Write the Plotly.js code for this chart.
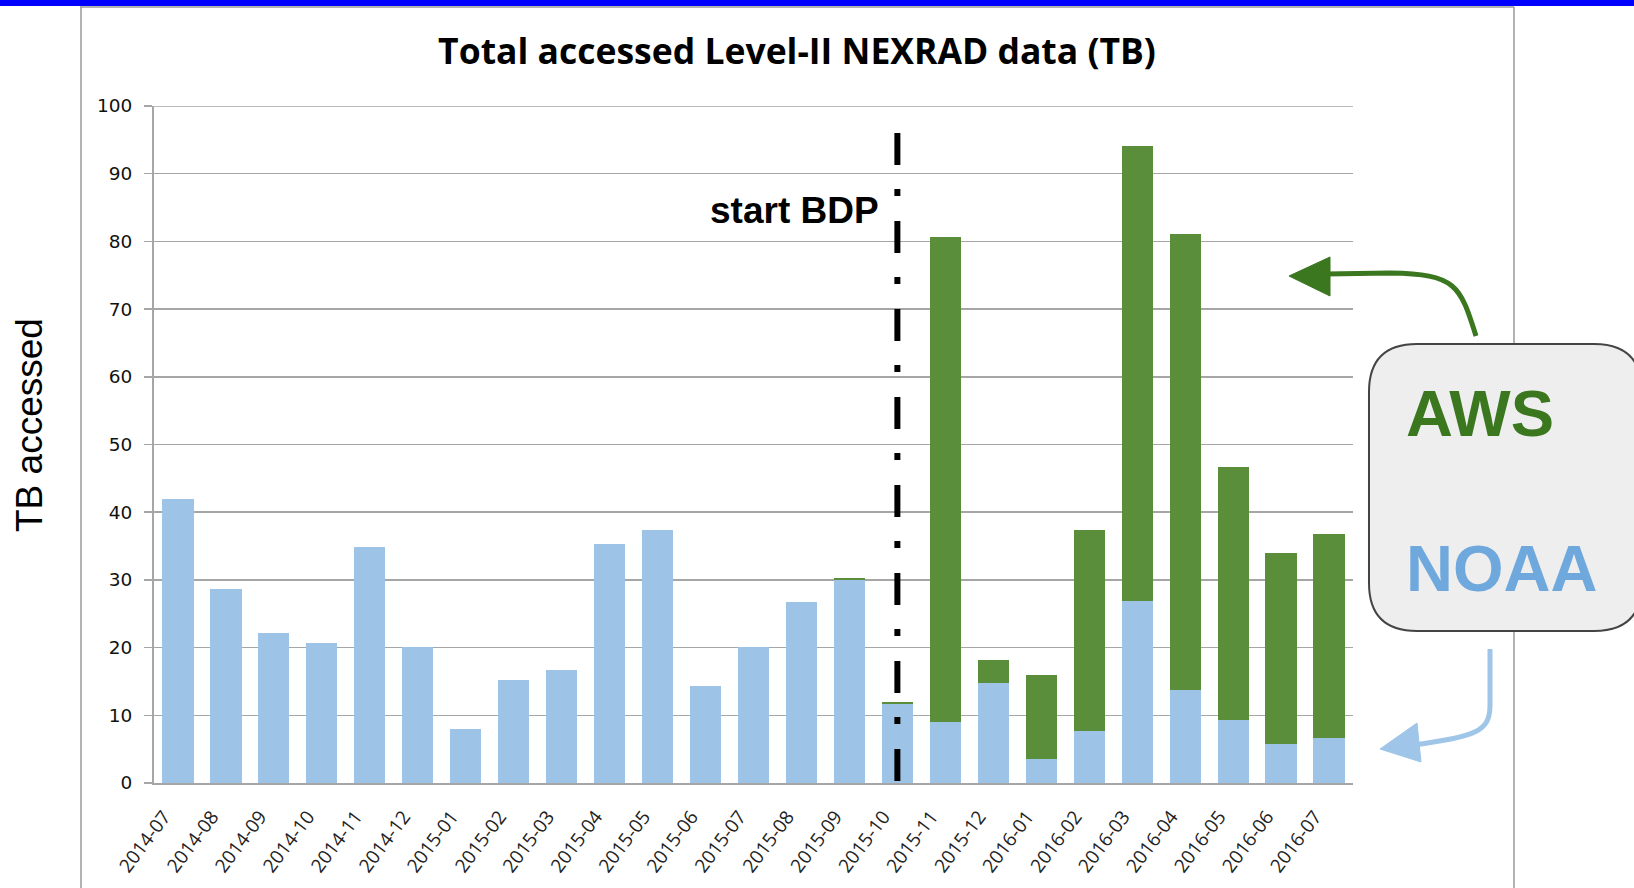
<!DOCTYPE html>
<html><head><meta charset="utf-8">
<script src="https://cdn.plot.ly/plotly-3.0.1.min.js"></script>
<style>html,body{margin:0;padding:0;background:#fff;overflow:hidden;} #chart{width:1634px;height:888px;}</style>
</head><body><div id="chart"></div>
<script>
// ---- data ----
const months = ["2014-07","2014-08","2014-09","2014-10","2014-11","2014-12","2015-01","2015-02","2015-03","2015-04","2015-05","2015-06","2015-07","2015-08","2015-09","2015-10","2015-11","2015-12","2016-01","2016-02","2016-03","2016-04","2016-05","2016-06","2016-07"];
const noaa = [41.9, 28.6, 22.1, 20.7, 34.8, 20.1, 8.0, 15.2, 16.7, 35.3, 37.4, 14.4, 20.1, 26.8, 30.0, 11.6, 9.0, 14.8, 3.5, 7.7, 26.9, 13.8, 9.3, 5.8, 6.7];
const aws  = [0, 0, 0, 0, 0, 0, 0, 0, 0, 0, 0, 0, 0, 0, 0.3, 0.3, 71.6, 3.3, 12.4, 29.7, 67.2, 67.3, 37.4, 28.2, 30.1];
const yTicks = [0, 10, 20, 30, 40, 50, 60, 70, 80, 90, 100];
const startMonth = "2015-10";
const titleText = "Total accessed Level-II NEXRAD data (TB)";

// ---- layout geometry ----
const W = 1634, H = 888;
const ML = 154, MR = 281, MT = 106, MB = 105;
const PW = W - ML - MR, PH = H - MT - MB;
const X = px => (px - ML) / PW;
const Y = py => (MT + PH - py) / PH;
const pt = (x, y) => X(x).toFixed(5) + "," + Y(y).toFixed(5);

const blue = "#9DC3E6", green = "#5B8E3A";
const grid = "#a6a6a6";

const traces = [
  {type: "bar", name: "NOAA", x: months, y: noaa, marker: {color: blue, line: {width: 0}}, hoverinfo: "x+y"},
  {type: "bar", name: "AWS", x: months, y: aws, marker: {color: green, line: {width: 0}}, hoverinfo: "x+y"}
];

const startIdx = months.indexOf(startMonth);

function roundRect(x0, y0, x1, y1, r) {
  return "M " + pt(x0 + r, y0) + " L " + pt(x1 - r, y0) +
    " Q " + pt(x1, y0) + " " + pt(x1, y0 + r) +
    " L " + pt(x1, y1 - r) + " Q " + pt(x1, y1) + " " + pt(x1 - r, y1) +
    " L " + pt(x0 + r, y1) + " Q " + pt(x0, y1) + " " + pt(x0, y1 - r) +
    " L " + pt(x0, y0 + r) + " Q " + pt(x0, y0) + " " + pt(x0 + r, y0) + " Z";
}

const shapes = [
  // top gridline at 100
  {type: "line", xref: "paper", yref: "y", x0: 0, x1: 1, y0: 100, y1: 100, line: {color: grid, width: 1.5}, layer: "below"},
  // blue top band
  {type: "rect", xref: "paper", yref: "paper", x0: X(0), x1: X(W), y0: Y(0), y1: Y(6), fillcolor: "#0000ff", line: {width: 0}, layer: "above"},
  // frame
  {type: "line", xref: "paper", yref: "paper", x0: X(80), x1: X(1514), y0: Y(7), y1: Y(7), line: {color: "#9a9a9a", width: 1.5}},
  {type: "line", xref: "paper", yref: "paper", x0: X(81), x1: X(81), y0: Y(7), y1: Y(H), line: {color: "#9a9a9a", width: 1.5}},
  {type: "line", xref: "paper", yref: "paper", x0: X(1514), x1: X(1514), y0: Y(7), y1: Y(H), line: {color: "#9a9a9a", width: 1.5}},
  // start BDP dash-dot line
  {type: "line", xref: "x", yref: "y", x0: startIdx, x1: startIdx, y0: 96, y1: 0, line: {color: "#000", width: 6, dash: "32px,24px,7px,25px"}, layer: "above"},
  // legend box
  {type: "path", xref: "paper", yref: "paper", path: roundRect(1369, 344, 1642, 631, 48), fillcolor: "#eeeeee", line: {color: "#444", width: 2}, layer: "above"},
  // green arrow
  {type: "path", xref: "paper", yref: "paper", path: "M " + pt(1476, 336) + " C " + pt(1460, 285) + " " + pt(1456, 274) + " " + pt(1390, 273) + " L " + pt(1326, 274), line: {color: "#3b771f", width: 5}, layer: "above"},
  {type: "path", xref: "paper", yref: "paper", path: "M " + pt(1289, 276) + " L " + pt(1330, 257) + " L " + pt(1330, 296) + " Z", fillcolor: "#3b771f", line: {color: "#3b771f", width: 1}, layer: "above"},
  // blue arrow
  {type: "path", xref: "paper", yref: "paper", path: "M " + pt(1490, 649) + " L " + pt(1490, 705) + " C " + pt(1490, 732) + " " + pt(1476, 736) + " " + pt(1414, 745), line: {color: "#9fc5e8", width: 5}, layer: "above"},
  {type: "path", xref: "paper", yref: "paper", path: "M " + pt(1380, 749) + " L " + pt(1417, 723) + " L " + pt(1421, 762) + " Z", fillcolor: "#9fc5e8", line: {color: "#9fc5e8", width: 1}, layer: "above"}
];

const annotations = [
  {xref: "paper", yref: "paper", x: X(29), y: Y(425), text: "TB accessed", textangle: -90, showarrow: false, xanchor: "center", yanchor: "middle", font: {family: "Liberation Sans, Arial, sans-serif", size: 37, color: "#000"}},
  {xref: "paper", yref: "paper", x: X(881), y: Y(211), text: "<b>start BDP</b>", showarrow: false, xanchor: "right", yanchor: "middle", font: {family: "Liberation Sans, Arial, sans-serif", size: 37, color: "#000"}},
  {xref: "paper", yref: "paper", x: X(1404), y: Y(414), text: "<b>AWS</b>", showarrow: false, xanchor: "left", yanchor: "middle", font: {family: "Liberation Sans, Arial, sans-serif", size: 65, color: "#3b771f"}},
  {xref: "paper", yref: "paper", x: X(1404), y: Y(568), text: "<b>NOAA</b>", showarrow: false, xanchor: "left", yanchor: "middle", font: {family: "Liberation Sans, Arial, sans-serif", size: 65, color: "#6fa8dc"}}
];

const layout = {
  width: W, height: H,
  margin: {l: ML, r: MR, t: MT, b: MB, pad: 0},
  paper_bgcolor: "#fff", plot_bgcolor: "#fff",
  showlegend: false,
  barmode: "stack", bargap: 0.35,
  title: {text: "<b>" + titleText + "</b>", x: 797 / W, xanchor: "center", y: 1 - 52 / H, yanchor: "middle",
          font: {family: "Open Sans, sans-serif", size: 35.5, color: "#000"}},
  xaxis: {type: "category", range: [-0.5, months.length - 0.5], showgrid: false, showline: true, linecolor: grid, linewidth: 2,
          ticks: "", tickangle: -53, ticklabelstandoff: 13, ticklabelshift: -14,
          tickfont: {family: "Open Sans, sans-serif", size: 19, color: "#222"}, automargin: false},
  yaxis: {range: [0, 100], tickvals: yTicks, showgrid: true, gridcolor: grid, gridwidth: 1.5, zeroline: false,
          showline: true, linecolor: grid, linewidth: 2, ticks: "outside", ticklen: 8, tickcolor: grid, tickwidth: 1.5,
          ticklabelstandoff: 8, tickfont: {family: "DejaVu Sans, Verdana, sans-serif", size: 18.5, color: "#111"}, automargin: false},
  shapes: shapes,
  annotations: annotations
};

Plotly.newPlot("chart", traces, layout, {displayModeBar: false, staticPlot: true});
</script>
</body></html>
